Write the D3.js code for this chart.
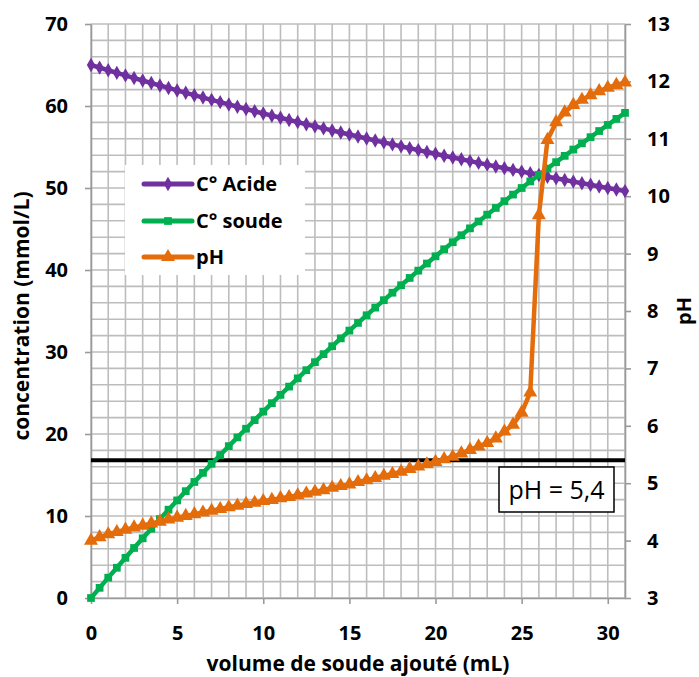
<!DOCTYPE html>
<html>
<head>
<meta charset="utf-8">
<script src="https://cdn.jsdelivr.net/npm/d3@7"></script>
<style>
  html, body { margin: 0; padding: 0; background: #ffffff; }
  svg { display: block; }
  text { font-family: "Open Sans", Lato, sans-serif; }
</style>
</head>
<body>
<svg id="chart" width="699" height="677"></svg>
<script>
// ---------------- DATA ----------------
const volumes = [0,0.5,1,1.5,2,2.5,3,3.5,4,4.5,5,5.5,6,6.5,7,7.5,8,8.5,9,9.5,10,10.5,11,11.5,12,12.5,13,13.5,14,14.5,15,15.5,16,16.5,17,17.5,18,18.5,19,19.5,20,20.5,21,21.5,22,22.5,23,23.5,24,24.5,25,25.5,26,26.5,27,27.5,28,28.5,29,29.5,30,30.5,31];

const acide = [65.00,64.68,64.36,64.04,63.73,63.41,63.11,62.80,62.50,62.20,61.90,61.61,61.32,61.03,60.75,60.47,60.19,59.91,59.63,59.36,59.09,58.82,58.56,58.30,58.04,57.78,57.52,57.27,57.02,56.77,56.52,56.28,56.03,55.79,55.56,55.32,55.08,54.85,54.62,54.39,54.17,53.94,53.72,53.50,53.28,53.06,52.85,52.63,52.42,52.21,52.00,51.79,51.59,51.38,51.18,50.98,50.78,50.58,50.39,50.19,50.00,49.81,49.62];

const soude = [0,1.24,2.48,3.69,4.90,6.10,7.28,8.45,9.62,10.77,11.90,13.03,14.15,15.26,16.36,17.44,18.52,19.59,20.64,21.69,22.73,23.76,24.77,25.78,26.79,27.78,28.76,29.74,30.70,31.66,32.61,33.55,34.48,35.41,36.32,37.23,38.14,39.03,39.92,40.79,41.67,42.53,43.39,44.24,45.08,45.92,46.75,47.57,48.39,49.20,50.00,50.80,51.59,52.37,53.15,53.92,54.69,55.45,56.20,56.95,57.69,58.43,59.16];

const pH = [4.00,4.06,4.11,4.15,4.19,4.23,4.26,4.30,4.33,4.37,4.40,4.43,4.46,4.49,4.52,4.55,4.58,4.61,4.64,4.66,4.69,4.71,4.74,4.76,4.79,4.82,4.85,4.88,4.92,4.95,4.98,5.02,5.05,5.09,5.13,5.16,5.20,5.25,5.29,5.33,5.37,5.42,5.46,5.52,5.58,5.64,5.70,5.78,5.90,6.02,6.23,6.58,9.67,10.98,11.29,11.46,11.59,11.68,11.76,11.83,11.89,11.94,11.98];

const xTicks = [0,5,10,15,20,25,30];
const yLeftTicks = [0,10,20,30,40,50,60,70];
const yRightTicks = [3,4,5,6,7,8,9,10,11,12,13];
const seriesNames = ["C° Acide", "C° soude", "pH"];
const seriesColors = ["#7030A0", "#00B050", "#E46C0A"];
const refPH = 5.4;
const refLabel = "pH = 5,4";
const xTitle = "volume de soude ajouté (mL)";
const yLeftTitle = "concentration (mmol/L)";
const yRightTitle = "pH";

// ---------------- LAYOUT ----------------
const svg = d3.select("#chart");
const L = 91, R = 625, T = 24, B = 598;

const x = d3.scaleLinear().domain([0, 31]).range([L, R]);
const yL = d3.scaleLinear().domain([0, 70]).range([B, T]);
const yR = d3.scaleLinear().domain([3, 13]).range([B, T]);

// gridlines
const grid = svg.append("g");
grid.selectAll("line.v").data(d3.range(0, 32, 1)).join("line")
  .attr("x1", d => x(d)).attr("x2", d => x(d))
  .attr("y1", T).attr("y2", B)
  .attr("stroke", "#bdbdbd").attr("stroke-width", 1.6);
grid.selectAll("line.h").data(d3.range(0, 71, 2)).join("line")
  .attr("x1", L).attr("x2", R)
  .attr("y1", d => yL(d)).attr("y2", d => yL(d))
  .attr("stroke", "#bdbdbd").attr("stroke-width", 1.6);

// axes
function styleAxis(g) {
  g.select(".domain").attr("stroke", "#9a9a9a").attr("stroke-width", 1.6);
  g.selectAll(".tick line").attr("stroke", "#9a9a9a").attr("stroke-width", 1.6);
  g.selectAll(".tick text").attr("fill", "#000").attr("font-size", 20)
    .attr("font-weight", "bold").attr("font-family", "'Open Sans', Lato, sans-serif");
}
const axL = svg.append("g").attr("transform", `translate(${L},0)`)
  .call(d3.axisLeft(yL).tickValues(yLeftTicks).tickSize(6).tickSizeOuter(0).tickPadding(17));
styleAxis(axL);
const axR = svg.append("g").attr("transform", `translate(${R},0)`)
  .call(d3.axisRight(yR).tickValues(yRightTicks).tickSize(6).tickSizeOuter(0).tickPadding(16));
styleAxis(axR);
const axB = svg.append("g").attr("transform", `translate(0,${B})`)
  .call(d3.axisBottom(x).tickValues(xTicks).tickSize(6).tickSizeOuter(0).tickPadding(16));
styleAxis(axB);
axB.selectAll(".tick text").attr("y", 35).attr("dy", "0.35em");

// titles
svg.append("text").attr("x", (L + R) / 2).attr("y", 664).attr("dy", "0.35em")
  .attr("text-anchor", "middle").attr("font-size", 21).attr("font-weight", "bold")
  .text(xTitle);
svg.append("text").attr("transform", `translate(22,${(T + B) / 2 + 5}) rotate(-90)`)
  .attr("text-anchor", "middle").attr("dy", "0.35em").attr("font-size", 21).attr("font-weight", "bold")
  .text(yLeftTitle);
svg.append("text").attr("transform", `translate(684,${(T + B) / 2}) rotate(-90)`)
  .attr("text-anchor", "middle").attr("dy", "0.35em").attr("font-size", 20).attr("font-weight", "bold")
  .text(yRightTitle);

// reference line pH = 5.4
svg.append("line").attr("x1", L).attr("x2", R)
  .attr("y1", yR(refPH)).attr("y2", yR(refPH))
  .attr("stroke", "#000").attr("stroke-width", 4);

// label box
const boxG = svg.append("g");
boxG.append("rect").attr("x", 499).attr("y", 467).attr("width", 115).attr("height", 45)
  .attr("fill", "#fff").attr("stroke", "#000").attr("stroke-width", 1.5);
boxG.append("text").attr("x", 556.5).attr("y", 490).attr("dy", "0.35em")
  .attr("text-anchor", "middle").attr("font-size", 25)
  .text(refLabel);

// series
const seriesData = [acide, soude, pH];
const scales = [yL, yL, yR];
const diamond = d3.symbol().type(d3.symbolDiamond).size(60);
const square = d3.symbol().type(d3.symbolSquare).size(60);
const triangle = d3.symbol().type(d3.symbolTriangle).size(85);
const symbols = [diamond, square, triangle];

seriesData.forEach((vals, i) => {
  const ys = scales[i];
  const pts = volumes.map((v, k) => [v, vals[k]]);
  const line = d3.line().x(d => x(d[0])).y(d => ys(d[1]));
  const g = svg.append("g");
  g.append("path").datum(pts).attr("d", line)
    .attr("fill", "none").attr("stroke", seriesColors[i]).attr("stroke-width", 4.5)
    .attr("stroke-linejoin", "round").attr("stroke-linecap", "round");
  g.selectAll("path.m").data(pts).join("path").attr("class", "m")
    .attr("transform", d => `translate(${x(d[0])},${ys(d[1])})`)
    .attr("d", symbols[i]).attr("fill", seriesColors[i]);
});

// legend
const lg = svg.append("g");
lg.append("rect").attr("x", 125).attr("y", 165).attr("width", 180).attr("height", 110).attr("fill", "#fff");
const rowsY = [184, 221, 257];
seriesNames.forEach((name, i) => {
  lg.append("line").attr("x1", 144).attr("x2", 192).attr("y1", rowsY[i]).attr("y2", rowsY[i])
    .attr("stroke", seriesColors[i]).attr("stroke-width", 5).attr("stroke-linecap", "round");
  lg.append("path").attr("transform", `translate(168,${rowsY[i]})`).attr("d", symbols[i]).attr("fill", seriesColors[i]);
  lg.append("text").attr("x", 196).attr("y", rowsY[i]).attr("dy", "0.36em")
    .attr("font-size", 20).attr("font-weight", "bold").text(name);
});
</script>
</body>
</html>
